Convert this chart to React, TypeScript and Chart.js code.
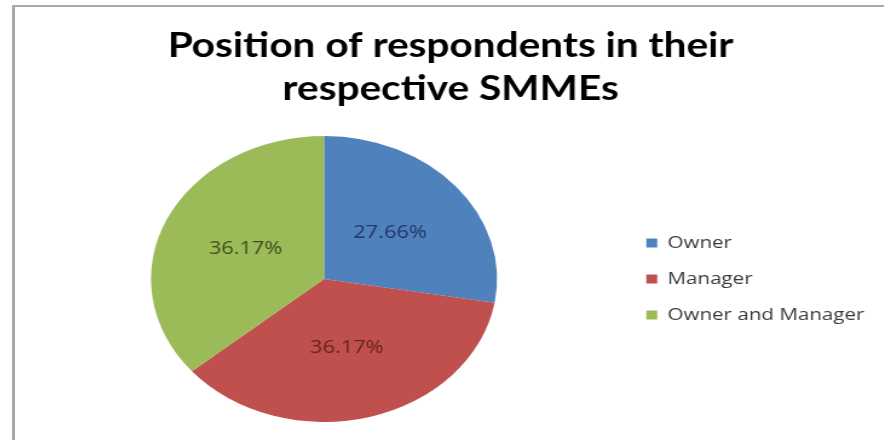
import React, { useEffect, useRef } from "react";
import { Chart, registerables } from "chart.js";

Chart.register(...registerables);

const TITLE_LINES = ["Position of respondents in their", "respective SMMEs"];
const CATEGORIES = ["Owner", "Manager", "Owner and Manager"];
const PERCENTAGES = [27.66, 36.17, 36.17];
const SLICE_COLORS = ["#4F81BD", "#C0504D", "#9BBB59"];
const LABEL_COLORS = ["#1F3864", "#632523", "#3D4F1C"];

const STRETCH = 1.21;
const W = 718;
const H = 433;

const sliceLabels = {
  id: "sliceLabels",
  afterDatasetsDraw(chart: any) {
    const ctx = chart.ctx;
    const meta = chart.getDatasetMeta(0);
    ctx.save();
    ctx.font = '18px "Open Sans"';
    ctx.textAlign = "center";
    ctx.textBaseline = "middle";
    meta.data.forEach((arc: any, i: number) => {
      const p = arc.tooltipPosition(false);
      ctx.fillStyle = LABEL_COLORS[i];
      ctx.fillText(PERCENTAGES[i].toFixed(2) + "%", p.x, p.y);
    });
    ctx.restore();
  },
};

export default function App() {
  const ref = useRef<HTMLCanvasElement | null>(null);

  useEffect(() => {
    if (!ref.current) return;
    const chart = new Chart(ref.current, {
      type: "pie",
      data: {
        labels: CATEGORIES,
        datasets: [
          {
            data: PERCENTAGES,
            backgroundColor: SLICE_COLORS,
            borderWidth: 0,
          },
        ],
      },
      options: {
        animation: false,
        responsive: false,
        devicePixelRatio: 1,
        layout: { padding: { left: 8, right: 6, top: 0, bottom: 18 } },
        plugins: {
          title: {
            display: true,
            text: TITLE_LINES,
            color: "#000000",
            font: { family: "Lato", size: 33.5, weight: "bold", lineHeight: 1.284 },
            padding: { top: 18, bottom: 25 },
          },
          legend: {
            position: "right",
            align: "center",
            fullSize: false,
            labels: {
              boxWidth: 9,
              boxHeight: 9,
              padding: 19,
              color: "#3a3a3a",
              font: { family: "Open Sans", size: 17 },
            },
          },
          tooltip: { enabled: false },
        },
      },
      plugins: [sliceLabels],
    });
    return () => chart.destroy();
  }, []);

  return (
    <div
      style={{
        position: "absolute",
        left: 12,
        top: 5,
        width: 872,
        height: 435,
        boxSizing: "border-box",
        borderLeft: "3px solid #a8a8a8",
        borderTop: "2px solid #a8a8a8",
        overflow: "hidden",
        background: "#ffffff",
      }}
    >
      <div
        style={{
          width: W,
          height: H,
          transform: `scaleX(${STRETCH})`,
          transformOrigin: "0 0",
        }}
      >
        <canvas ref={ref} width={W} height={H} />
      </div>
    </div>
  );
}
